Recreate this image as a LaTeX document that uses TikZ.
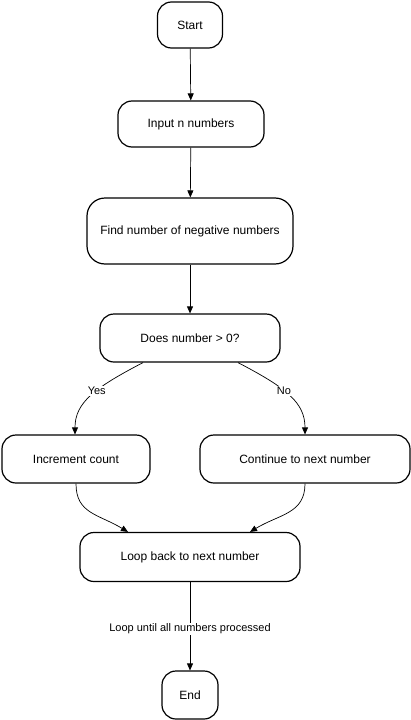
\documentclass[tikz,border=0pt]{standalone}
\usepackage{fontspec}
\setmainfont{Liberation Sans}
\usetikzlibrary{arrows.meta}

\begin{document}
\begin{tikzpicture}[x=1pt, y=-1pt,
    box/.style={draw, line width=1.2pt, rounded corners=14pt, inner sep=0pt,
      align=center, font=\fontsize{12}{14}\selectfont},
    edge/.style={draw, line width=0.7pt, -{Triangle[length=7pt,width=6pt]}},
    lbl/.style={fill=white, inner sep=1pt, font=\fontsize{11}{13}\selectfont}]
    \useasboundingbox (0,0) rectangle (411,720);

    \node[box, minimum width=65pt, minimum height=46pt] (start) at (190, 25) {Start};
    \node[box, minimum width=146pt, minimum height=46pt] (input) at (191, 124) {Input n numbers};
    \node[box, minimum width=206pt, minimum height=66pt, rounded corners=18pt] (find) at (190, 231) {Find number of negative numbers};
    \node[box, minimum width=180pt, minimum height=48pt] (dec) at (190, 338) {Does number \textgreater{} 0?};
    \node[box, minimum width=148pt, minimum height=48pt] (inc) at (76, 459) {Increment count};
    \node[box, minimum width=210pt, minimum height=48pt] (cont) at (305, 459) {Continue to next number};
    \node[box, minimum width=220pt, minimum height=49pt] (loop) at (190, 557) {Loop back to next number};
    \node[box, minimum width=56pt, minimum height=48pt] (end) at (190, 695) {End};

    \draw[edge] (start) -- (input);
    \draw[edge] (input) -- (find);
    \draw[edge] (find) -- (dec);

    \draw[edge] ([xshift=-47pt]dec.south) .. controls +(-48,25) and +(0,-32) .. ([xshift=-1pt]inc.north)
        node[lbl, pos=0.42] (yes) {Yes};
    \draw[edge] ([xshift=48pt]dec.south) .. controls +(48,25) and +(0,-32) .. (cont.north)
        node[lbl, pos=0.42] (no) {No};

    \draw[edge] (inc.south) .. controls +(0,30) and +(-30,-18) .. ([xshift=-62pt]loop.north);
    \draw[edge] (cont.south) .. controls +(0,30) and +(30,-18) .. ([xshift=60pt]loop.north);

    \draw[edge] (loop) -- node[lbl, pos=0.53] (until) {Loop until all numbers processed} (end);
\end{tikzpicture}
\end{document}
